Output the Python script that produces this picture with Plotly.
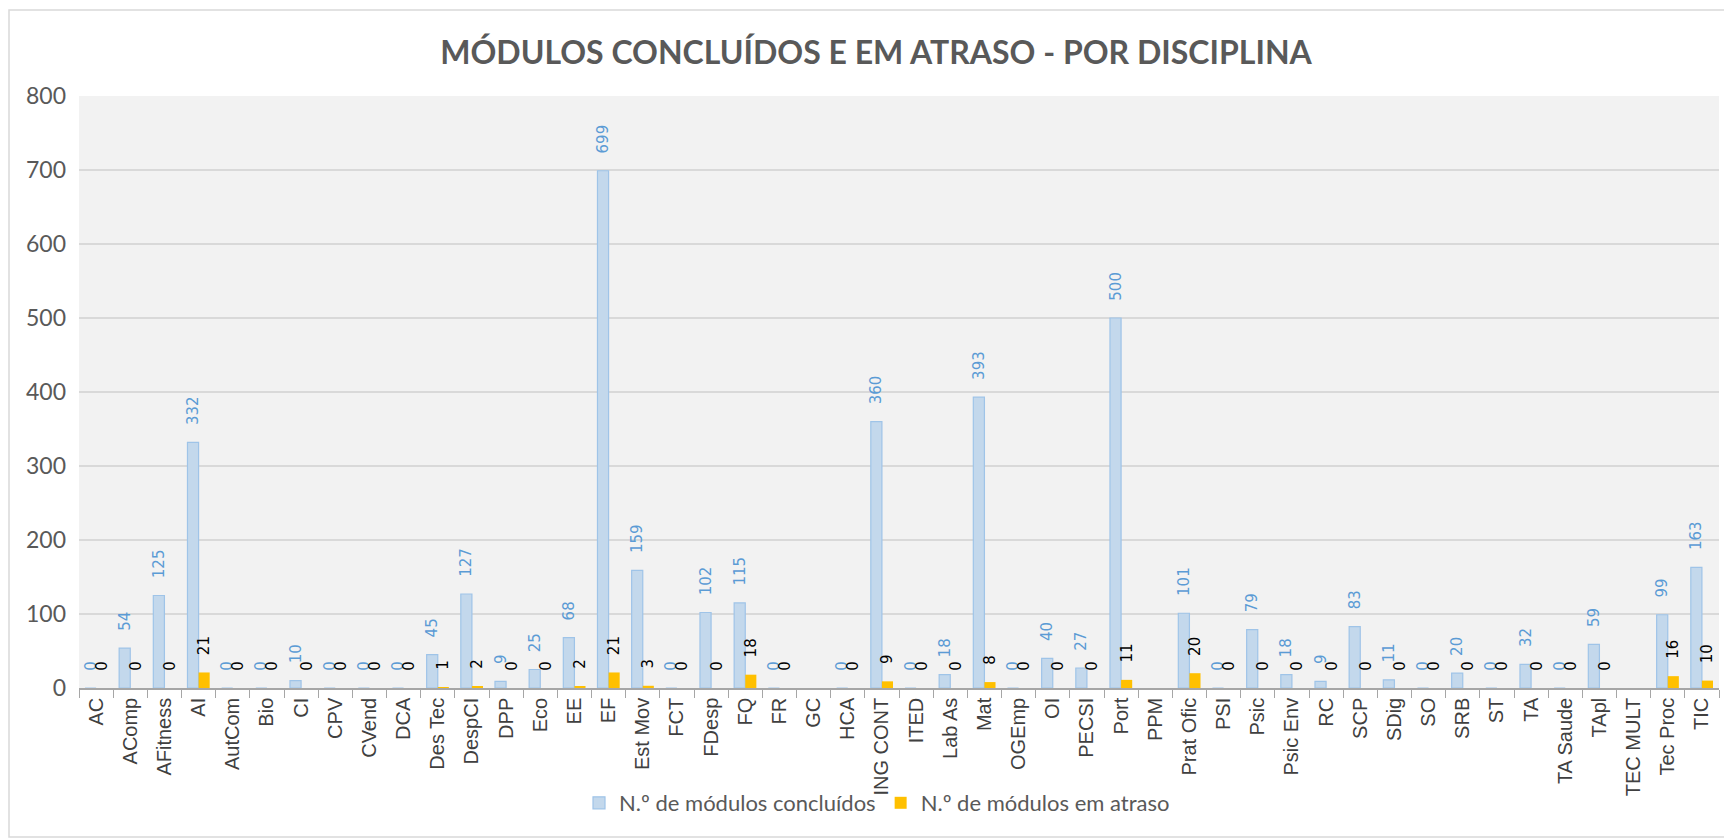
import plotly.graph_objects as go

categories = ["AC", "AComp", "AFitness", "AI", "AutCom", "Bio", "CI", "CPV", "CVend", "DCA",
              "Des Tec", "DespCI", "DPP", "Eco", "EE", "EF", "Est Mov", "FCT", "FDesp", "FQ",
              "FR", "GC", "HCA", "ING CONT", "ITED", "Lab As", "Mat", "OGEmp", "OI", "PECSI",
              "Port", "PPM", "Prat Ofic", "PSI", "Psic", "Psic Env", "RC", "SCP", "SDig", "SO",
              "SRB", "ST", "TA", "TA Saude", "TApl", "TEC MULT", "Tec Proc", "TIC"]

concluidos = [0, 54, 125, 332, 0, 0, 10, 0, 0, 0,
              45, 127, 9, 25, 68, 699, 159, 0, 102, 115,
              0, None, 0, 360, 0, 18, 393, 0, 40, 27,
              500, None, 101, 0, 79, 18, 9, 83, 11, 0,
              20, 0, 32, 0, 59, None, 99, 163]

atraso = [0, 0, 0, 21, 0, 0, 0, 0, 0, 0,
          1, 2, 0, 0, 2, 21, 3, 0, 0, 18,
          0, None, 0, 9, 0, 0, 8, 0, 0, 0,
          11, None, 20, 0, 0, 0, 0, 0, 0, 0,
          0, 0, 0, 0, 0, None, 16, 10]

series_names = ["N.º de módulos concluídos", "N.º de módulos em atraso"]

# figure sits at (8, 8) inside the page (default body margin)
W, H = 1724, 830
L, R, T, B = 71, 13, 88, 150
pw, ph = W - L - R, H - T - B

PAD = "\u00a0\u00a0\u00a0"


def labels(vals):
    return [PAD + str(v) if v is not None else "" for v in vals]


fig = go.Figure()
fig.add_trace(go.Bar(
    x=categories, y=concluidos, name=series_names[0],
    marker=dict(color="#C3D8EC", line=dict(color="#9FC4E8", width=1.2)),
    text=labels(concluidos), textposition="outside", textangle=-90,
    textfont=dict(family="DejaVu Sans", size=15, color="#5B9BD5"),
    cliponaxis=False, constraintext="none",
))
fig.add_trace(go.Bar(
    x=categories, y=atraso, name=series_names[1],
    marker=dict(color="#FFC000", line=dict(width=0)),
    text=labels(atraso), textposition="outside", textangle=-90,
    textfont=dict(family="DejaVu Sans", size=15, color="#000000"),
    cliponaxis=False, constraintext="none",
))

fig.update_layout(
    width=W, height=H,
    margin=dict(l=L, r=R, t=T, b=B),
    paper_bgcolor="white",
    plot_bgcolor="#F2F2F2",
    barmode="group", bargap=0.35, bargroupgap=0.0,
    title=dict(text="<b>MÓDULOS CONCLUÍDOS E EM ATRASO - POR DISCIPLINA</b>",
               x=868 / W, xanchor="center", y=1 - 45 / H, yanchor="middle",
               font=dict(family="Lato", size=32, color="#595959")),
    legend=dict(orientation="h", x=(869 - L) / pw, xanchor="center",
                y=(T + ph - 795) / ph, yanchor="middle",
                font=dict(family="Lato", size=22, color="#595959"),
                bgcolor="rgba(0,0,0,0)", itemwidth=30, tracegroupgap=0),
    xaxis=dict(type="category", tickangle=-90,
               tickfont=dict(family="Liberation Sans", size=20, color="#404040"),
               showline=True, linecolor="#A6A6A6", linewidth=1.5,
               ticks="outside", tickson="boundaries", ticklen=8, tickcolor="#A6A6A6",
               showgrid=False),
    yaxis=dict(range=[0, 800], dtick=100, tickfont=dict(family="Lato", size=23, color="#595959"),
               showgrid=True, gridcolor="#D9D9D9", gridwidth=1.5,
               zeroline=False, showline=False, ticks="", ticklabelstandoff=12),
    shapes=[dict(type="rect", xref="paper", yref="paper",
                 x0=(1 - L) / pw, x1=(1721 - L) / pw,
                 y0=(T + ph - 829) / ph, y1=(T + ph - 2) / ph,
                 line=dict(color="#D9D9D9", width=1.5), fillcolor="rgba(0,0,0,0)",
                 layer="below")],
)

fig.write_html("out.html")
